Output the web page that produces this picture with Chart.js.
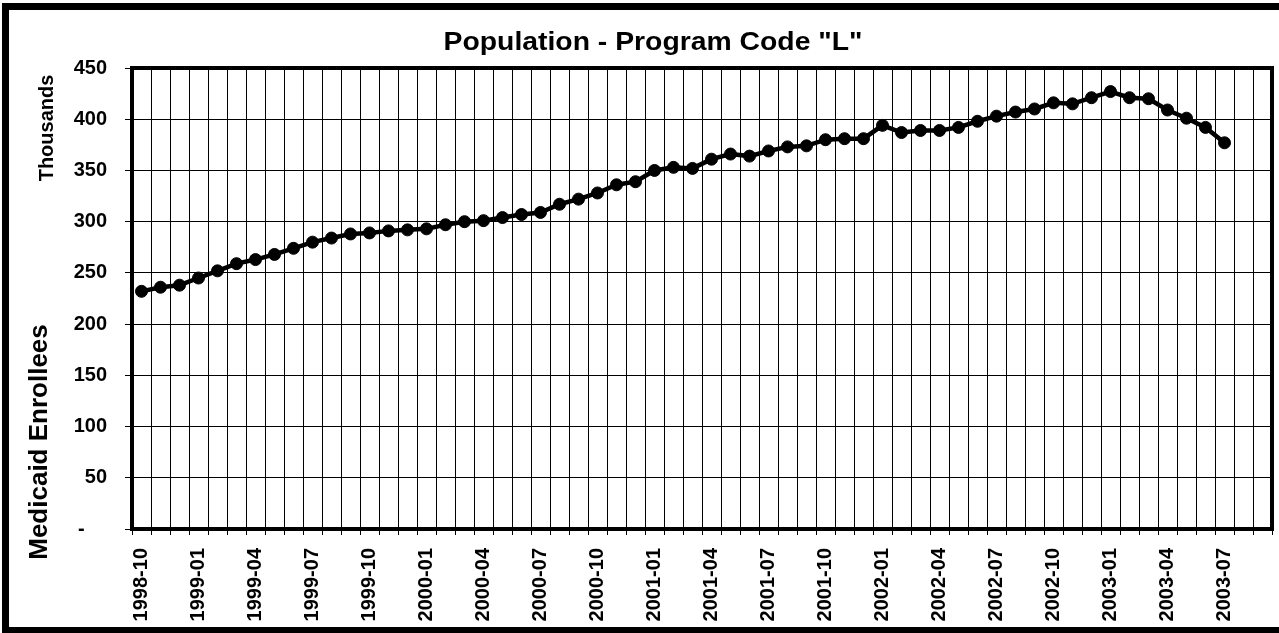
<!DOCTYPE html>
<html>
<head>
<meta charset="utf-8">
<script src="https://cdn.jsdelivr.net/npm/chart.js@4"></script>
<style>
  body { margin: 0; background: #fff; }
  #wrap { width: 1279px; height: 633px; }
</style>
</head>
<body>
<div id="wrap"><canvas id="myChart" width="1279" height="633"></canvas></div>
<script>
const months = [
    '1998-10', '1998-11', '1998-12',
    '1999-01', '1999-02', '1999-03', '1999-04', '1999-05', '1999-06', '1999-07', '1999-08', '1999-09', '1999-10', '1999-11', '1999-12',
    '2000-01', '2000-02', '2000-03', '2000-04', '2000-05', '2000-06', '2000-07', '2000-08', '2000-09', '2000-10', '2000-11', '2000-12',
    '2001-01', '2001-02', '2001-03', '2001-04', '2001-05', '2001-06', '2001-07', '2001-08', '2001-09', '2001-10', '2001-11', '2001-12',
    '2002-01', '2002-02', '2002-03', '2002-04', '2002-05', '2002-06', '2002-07', '2002-08', '2002-09', '2002-10', '2002-11', '2002-12',
    '2003-01', '2003-02', '2003-03', '2003-04', '2003-05', '2003-06', '2003-07', '2003-08', '2003-09'
];

// enrollees in thousands, one per month starting 1998-10
const enrollees = [
    232, 236, 238, 245, 252, 259, 263, 268, 274, 280, 284, 288,
    289, 291, 292, 293, 297, 300, 301, 304, 307, 309, 317, 322,
    328, 336, 339, 350, 353, 352, 361, 366, 364, 369, 373, 374,
    380, 381, 381, 394, 387, 389, 389, 392, 398, 403, 407, 410,
    416, 415, 421, 427, 421, 420, 409, 401, 392, 377
];

const yMin = 0;
const yMax = 450;
const yStep = 50;

const chartTitle = 'Population - Program Code "L"';
const yTitle = 'Medicaid Enrollees';
const yUnit = 'Thousands';

const FONT = "'Liberation Sans', Arial, sans-serif";

const decor = {
    id: 'decor',
    beforeDraw(chart) {
        const ctx = chart.ctx;
        ctx.save();
        ctx.fillStyle = '#fff';
        ctx.fillRect(0, 0, chart.width, chart.height);
        ctx.restore();
    },
    afterDraw(chart) {
        const ctx = chart.ctx;
        const a = chart.chartArea;
        ctx.save();
        ctx.strokeStyle = '#000';
        // plot frame
        ctx.lineWidth = 4;
        ctx.strokeRect(a.left, a.top, a.right - a.left, a.bottom - a.top);
        // outer frame
        ctx.lineWidth = 7;
        ctx.strokeRect(5.5, 6.5, 1277, 624);

        ctx.fillStyle = '#000';
        // title
        ctx.save();
        ctx.translate(653, 50);
        ctx.scale(1.09, 1);
        ctx.font = 'bold 26px ' + FONT;
        ctx.textAlign = 'center';
        ctx.textBaseline = 'alphabetic';
        ctx.fillText(chartTitle, 0, 0);
        ctx.restore();

        // axis titles
        ctx.save();
        ctx.translate(47, 442);
        ctx.rotate(-Math.PI / 2);
        ctx.font = 'bold 26px ' + FONT;
        ctx.textAlign = 'center';
        ctx.fillText(yTitle, 0, 0);
        ctx.restore();

        ctx.save();
        ctx.translate(53, 128);
        ctx.rotate(-Math.PI / 2);
        ctx.font = 'bold 20px ' + FONT;
        ctx.textAlign = 'center';
        ctx.fillText(yUnit, 0, 0);
        ctx.restore();

        ctx.restore();
    }
};

const ctx = document.getElementById('myChart').getContext('2d');
const myChart = new Chart(ctx, {
    type: 'line',
    data: {
        labels: months,
        datasets: [{
            label: yTitle,
            data: enrollees,
            borderColor: '#000',
            borderWidth: 4.5,
            backgroundColor: '#000',
            pointRadius: 6,
            pointBackgroundColor: '#000',
            pointBorderColor: '#000',
            pointBorderWidth: 1,
            tension: 0
        }]
    },
    options: {
        responsive: false,
        animation: false,
        devicePixelRatio: 1,
        layout: {
            padding: { top: 68, right: 1, bottom: 0, left: 0 }
        },
        plugins: {
            legend: false,
            tooltip: { enabled: false },
            title: { display: false }
        },
        scales: {
            x: {
                offset: true,
                grid: { offset: true, color: '#000', lineWidth: 1, tickLength: 6 },
                border: { display: false },
                ticks: {
                    autoSkip: false,
                    minRotation: 90,
                    maxRotation: 90,
                    padding: 13,
                    color: '#000',
                    font: { family: FONT, size: 20, weight: 'bold' },
                    callback(v, i) { return i % 3 === 0 ? months[i] : ''; }
                },
                afterFit(s) {
                    s.height = 104;
                    s.paddingLeft = 0;
                    s.paddingRight = 0;
                }
            },
            y: {
                min: yMin,
                max: yMax,
                grid: { color: '#000', lineWidth: 1, tickLength: 7 },
                border: { display: false },
                ticks: {
                    stepSize: yStep,
                    padding: 18,
                    color: '#000',
                    font: { family: FONT, size: 20, weight: 'bold' },
                    callback: (v) => v === 0 ? '-    ' : v
                },
                afterFit(s) {
                    s.width = 132;
                    s.paddingTop = 0;
                    s.paddingBottom = 0;
                }
            }
        }
    },
    plugins: [decor]
});
</script>
</body>
</html>
